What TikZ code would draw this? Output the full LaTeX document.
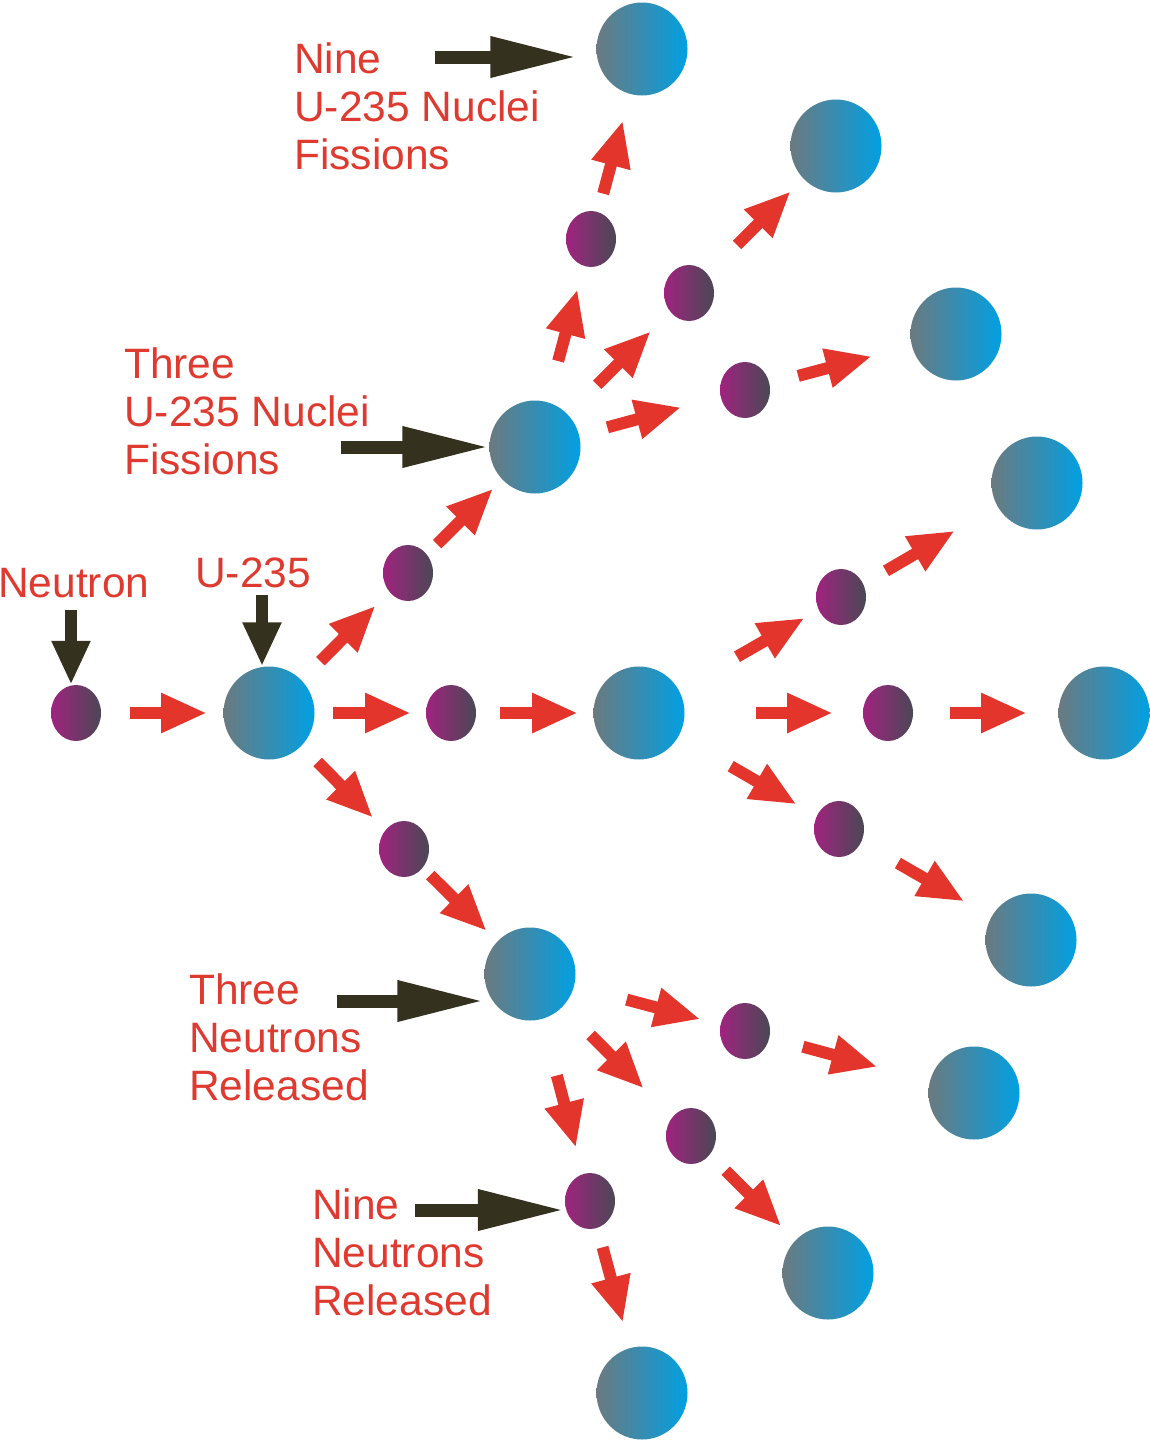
\documentclass[tikz,border=0pt]{standalone}
\usepackage{fontspec}
\setmainfont{Liberation Sans}
\usetikzlibrary{arrows.meta,shapes.geometric}
\definecolor{arrred}{HTML}{E3352B}
\definecolor{txtred}{HTML}{DF3A2F}
\definecolor{darkar}{HTML}{35311F}
\definecolor{ugray}{HTML}{6B7A80}
\definecolor{ublue}{HTML}{00A0E3}
\definecolor{nmag}{HTML}{A0237F}
\definecolor{ndark}{HTML}{4A4855}
\tikzset{
  uran/.style={ellipse, inner sep=0pt, minimum width=91pt, minimum height=93pt, left color=ugray, right color=ublue},
  neut/.style={ellipse, inner sep=0pt, minimum width=50pt, minimum height=56pt, left color=nmag, right color=ndark},
  redarr/.style={draw=arrred, line width=12pt, -{Triangle[length=46pt,width=37pt]}, arrred},
  darkarr/.style={draw=darkar, line width=12.5pt, -{Triangle[length=44pt,width=36pt]}, darkar},
  longdark/.style={draw=darkar, line width=13pt, -{Triangle[length=87pt,width=38pt]}, darkar},
  lbl/.style={anchor=base west, inner sep=0pt, text=txtred, font=\fontsize{42.5}{48}\selectfont}
}
\newcommand\rarr[4]{\draw[redarr, shorten <=#3pt, shorten >=#4pt] (#1.center) -- (#2.center);}
\begin{document}
\begin{tikzpicture}[x=1pt,y=-1pt]
\useasboundingbox (0,0) rectangle (1150,1440);
% U-235 nuclei
\node[uran] (c1) at (269,713) {};
\node[uran] (c2) at (642,49) {};
\node[uran] (c3) at (836,146) {};
\node[uran] (c4) at (956,334) {};
\node[uran] (c5) at (535,447) {};
\node[uran] (c6) at (1037,483) {};
\node[uran] (c7) at (639,713) {};
\node[uran] (c8) at (1104,713) {};
\node[uran] (c9) at (1031,940) {};
\node[uran] (c10) at (530,974) {};
\node[uran] (c11) at (974,1093) {};
\node[uran] (c12) at (828,1273) {};
\node[uran] (c13) at (642,1393) {};
% neutrons
\node[neut] (n1) at (76,713) {};
\node[neut] (n2) at (591,239) {};
\node[neut] (n3) at (689,293) {};
\node[neut] (n4) at (745,390) {};
\node[neut] (n5) at (408,573) {};
\node[neut] (n6) at (841,597) {};
\node[neut] (n7) at (451,713) {};
\node[neut] (n8) at (888,713) {};
\node[neut] (n9) at (839,829) {};
\node[neut] (n10) at (404,849) {};
\node[neut] (n11) at (745,1031) {};
\node[neut] (n12) at (691,1136) {};
\node[neut] (n13) at (590,1201) {};
% red arrows
\rarr{n1}{c1}{54}{62}
\rarr{c1}{n7}{64}{40}
\rarr{n7}{c7}{49}{61}
\rarr{c7}{n8}{117}{55}
\rarr{n8}{c8}{62}{77}
\rarr{c1}{n5}{73}{46}
\rarr{n5}{c5}{41}{59}
\rarr{c5}{n2}{89}{52}
\rarr{n2}{c2}{47}{74}
\rarr{c5}{n3}{88}{54}
\rarr{n3}{c3}{68}{64}
\rarr{c5}{n4}{75}{66}
\rarr{n4}{c4}{55}{87}
\rarr{c7}{n6}{113}{42}
\rarr{n6}{c6}{52}{95}
\rarr{c7}{n9}{106}{49}
\rarr{n9}{c9}{68}{77}
\rarr{c1}{n10}{69}{44}
\rarr{n10}{c10}{37}{61}
\rarr{c10}{n11}{100}{46}
\rarr{n11}{c11}{60}{100}
\rarr{c10}{n12}{86}{67}
\rarr{c10}{n13}{105}{55}
\rarr{n12}{c12}{49}{66}
\rarr{n13}{c13}{48}{73}
% labels
\node[lbl] (tNeutron) at (-2,597) {Neutron};
\node[lbl] (tU) at (195,587) {U-235};
\node[lbl] (tA1) at (294,73) {Nine};
\node[lbl] (tA2) at (294,121) {U-235 Nuclei};
\node[lbl] (tA3) at (294,169) {Fissions};
\node[lbl] (tB1) at (124,378) {Three};
\node[lbl] (tB2) at (124,426) {U-235 Nuclei};
\node[lbl] (tB3) at (124,474) {Fissions};
\node[lbl] (tC1) at (189,1004) {Three};
\node[lbl] (tC2) at (189,1052) {Neutrons};
\node[lbl] (tC3) at (189,1100) {Released};
\node[lbl] (tD1) at (312,1219) {Nine};
\node[lbl] (tD2) at (312,1267) {Neutrons};
\node[lbl] (tD3) at (312,1315) {Released};
% dark pointer arrows
\coordinate (kN) at (71,610);
\coordinate (kU) at (262,595);
\coordinate (kA) at (435,57);
\coordinate (kB) at (341,447);
\coordinate (kC) at (337,1001);
\coordinate (kD) at (415,1210);
\draw[darkarr] (kN) -- (kN |- n1.north) ;
\draw[darkarr] (kU) -- (kU |- c1.north);
\draw[longdark, shorten >=19pt] (kA) -- (kA -| c2.west);
\draw[longdark] (kB) -- (kB -| c5.west);
\draw[longdark] (kC) -- (kC -| c10.west);
\draw[longdark] (kD) -- (kD -| n13.west);
\end{tikzpicture}
\end{document}
